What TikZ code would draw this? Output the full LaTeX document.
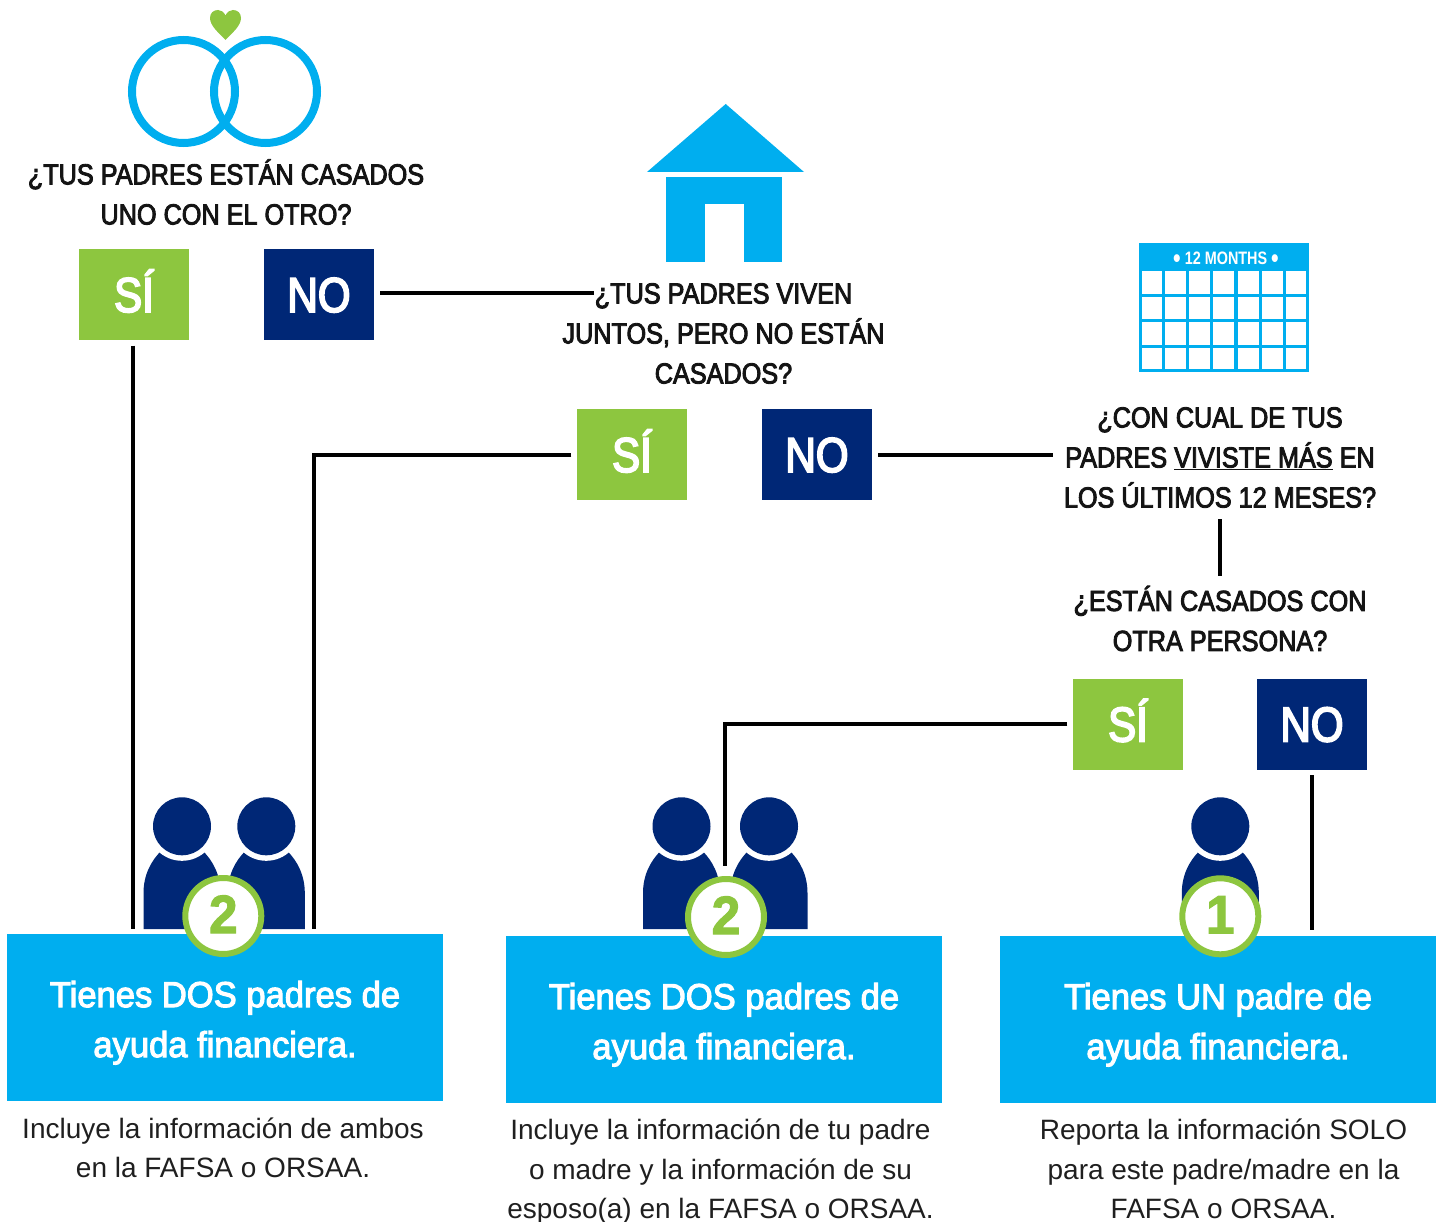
\documentclass[tikz,border=0pt]{standalone}
\usepackage{fontspec}
\usepackage{graphicx}
\setmainfont{Liberation Sans}
\newfontfamily\headf[FakeStretch=0.87,FakeBold=3]{Liberation Sans}
\newfontfamily\choicef[FakeStretch=0.86,FakeBold=3.5]{Liberation Sans}
\newfontfamily\resf[FakeStretch=0.96,FakeBold=3]{Liberation Sans}
\newfontfamily\capf[FakeStretch=1.0]{Liberation Sans}
\newfontfamily\calf[FakeStretch=0.8]{Liberation Sans Bold}
\newfontfamily\numf[FakeStretch=0.95,FakeBold=2]{Liberation Sans Bold}
\definecolor{sky}{HTML}{00AEEF}
\definecolor{leaf}{HTML}{8DC63F}
\definecolor{navy}{HTML}{002776}
\tikzset{
  x=1pt,y=-1pt,
  conn/.style={draw=black,line width=4pt},
  sibox/.style={fill=leaf,text=white,minimum width=110pt,minimum height=91pt,inner sep=0pt,text height=35pt,text depth=0pt,font=\choicef\fontsize{49}{49}\selectfont},
  nobox/.style={fill=navy,text=white,minimum width=110pt,minimum height=91pt,inner sep=0pt,text height=35pt,text depth=0pt,font=\choicef\fontsize{49}{49}\selectfont},
  question/.style={align=center,inner sep=0pt,text=black!92,font=\headf\fontsize{29}{40}\selectfont},
  resbox/.style={fill=sky,text=white,align=center,minimum width=436pt,minimum height=167pt,inner sep=0pt,font=\resf\fontsize{36}{50}\selectfont},
  note/.style={align=center,inner sep=0pt,text=black!88,font=\capf\fontsize{28}{39.5}\selectfont},
  badge/.style={circle,draw=leaf,fill=white,line width=6pt,minimum size=76pt,inner sep=0pt,text=leaf,text height=38.7pt,text depth=4.6pt,font=\numf\fontsize{54}{54}\selectfont},
  ring/.style={draw=sky,line width=8pt},
  headdot/.style={fill=navy},
  gapdot/.style={fill=white},
  bodyshape/.style={fill=navy},
}
\newcommand{\bodyat}[1]{%
  \fill[bodyshape] (#1-38.5,929) -- (#1-38.5,893)
    .. controls (#1-38.5,875) and (#1-31,861) .. (#1-21,851)
    -- (#1+21,851)
    .. controls (#1+31,861) and (#1+38.5,875) .. (#1+38.5,893)
    -- (#1+38.5,929) -- cycle;
  \fill[gapdot] (#1,826.3) circle[radius=34.5];
  \fill[headdot] (#1,826.3) circle[radius=29];
}
\newcommand{\bigdot}{{\fontsize{27}{27}\selectfont\raisebox{-3pt}{\textbullet}}}
\newcommand{\dropline}{\rule{0pt}{36.6pt}}
\begin{document}
\begin{tikzpicture}
\useasboundingbox (0,0) rectangle (1440,1222);

% rings and heart
\draw[ring] (183.5,91.5) circle[radius=51.5];
\draw[ring] (265.5,91.5) circle[radius=51.5];
\fill[leaf] (225.5,40) .. controls (219,33) and (210,26) .. (210,18)
  .. controls (210,13) and (213.5,10) .. (218,10)
  .. controls (221,10) and (224,12) .. (225.5,15.5)
  .. controls (227,12) and (230,10) .. (233,10)
  .. controls (237.5,10) and (241,13) .. (241,18)
  .. controls (241,26) and (232,33) .. (225.5,40) -- cycle;

% house
\fill[sky] (725.7,104) -- (804,172) -- (647,172) -- cycle;
\fill[sky] (666,177) rectangle (782,262);
\fill[white] (705,204) rectangle (744,262);

% calendar
\fill[sky] (1139,243) rectangle (1309,372);
\foreach \xa/\xb in {1142/1162.3,1165/1186,1189/1210,1213/1234.3,1237.7/1259,1262/1283.3,1286/1306}
  \foreach \ya/\yb in {271/293.7,297/319,322/344.7,348/369}
    \fill[white] (\xa,\ya) rectangle (\xb,\yb);
\node[text=white,inner sep=0pt,font=\calf\fontsize{18}{18}\selectfont] (calhead) at (1226,260) {\bigdot\ 12 MONTHS \bigdot};

% people
\bodyat{182}
\bodyat{266.3}
\bodyat{681.5}
\bodyat{769}
\bodyat{1220.3}

% question texts
\node[question] (q1) at (226,192) {¿TUS PADRES ESTÁN CASADOS\\UNO CON EL OTRO?};
\node[question] (q2) at (723.5,333.5) {¿TUS PADRES VIVEN\\JUNTOS, PERO NO ESTÁN\\CASADOS?};
\node[question] (q3) at (1220,457.5) {¿CON CUAL DE TUS\\PADRES \underline{VIVISTE MÁS} EN\\LOS ÚLTIMOS 12 MESES?};
\node[question] (q4) at (1220,618.5) {¿ESTÁN CASADOS CON\\OTRA PERSONA?};

% choices
\node[sibox] (si1) at (134,294.5) {SÍ};
\node[nobox] (no1) at (319,294.5) {NO};
\node[sibox] (si2) at (632,454.5) {SÍ};
\node[nobox] (no2) at (817,454.5) {NO};
\node[sibox] (si3) at (1128,724) {SÍ};
\node[nobox] (no3) at (1312,724) {NO};

% results
\node[resbox] (r1) at (225,1017.5) {\dropline Tienes DOS padres de\\ayuda financiera.};
\node[resbox] (r2) at (724,1019.5) {\dropline Tienes DOS padres de\\ayuda financiera.};
\node[resbox] (r3) at (1218,1019.5) {\dropline Tienes UN padre de\\ayuda financiera.};

\node[note] (n1) at (223,1148) {Incluye la información de ambos\\en la FAFSA o ORSAA.};
\node[note] (n2) at (720.5,1172) {Incluye la información de tu padre\\o madre y la información de su\\esposo(a) en la FAFSA o ORSAA.};
\node[note] (n3) at (1223.5,1169) {Reporta la información SOLO\\para este padre/madre en la\\FAFSA o ORSAA.};

% connector free ends
\coordinate (a1) at (133,929);
\coordinate (a2) at (314,929);
\coordinate (b2) at (594,293);
\coordinate (c3) at (1053,455);
\coordinate (d1) at (1220,519);
\coordinate (d2) at (1220,576);
\coordinate (e3) at (724.5,866);
\coordinate (f3) at (1312,930);

% connectors
\draw[conn,shorten <=5.5pt] (a1 |- si1.south) -- (a1);
\draw[conn,shorten <=6pt] (no1.east |- b2) -- (b2);
\draw[conn,shorten <=5.5pt] (si2.west) -| (a2);
\draw[conn,shorten <=6pt] (no2.east |- c3) -- (c3);
\draw[conn] (d1) -- (d2);
\draw[conn,shorten <=5.5pt] (si3.west) -| (e3);
\draw[conn,shorten <=5.5pt] (f3 |- no3.south) -- (f3);

% badges
\node[badge] (b1) at (223.3,916) {2};
\node[badge] (b2n) at (726,917) {2};
\node[badge] (b3n) at (1220.3,916.3) {1};
\end{tikzpicture}
\end{document}
